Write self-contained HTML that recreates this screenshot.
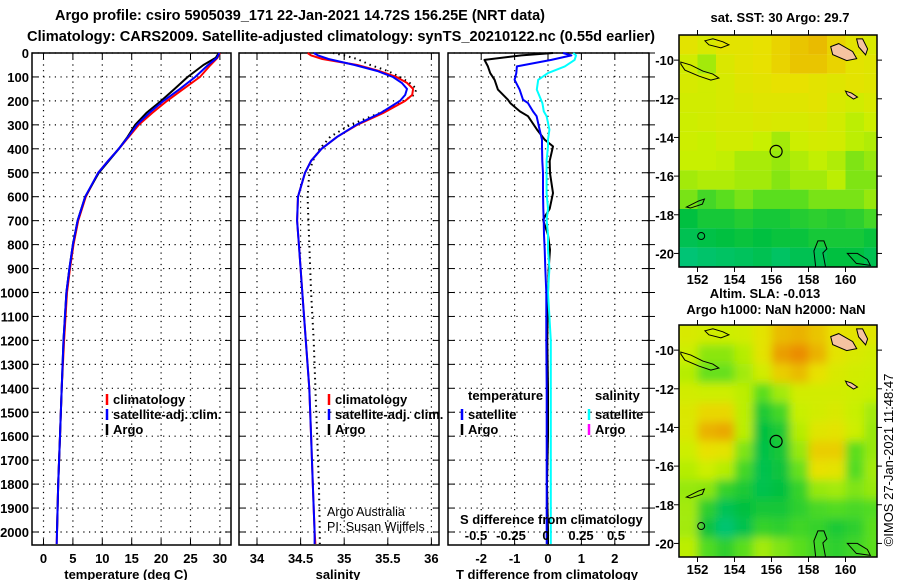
<!DOCTYPE html>
<html><head><meta charset="utf-8"><style>
html,body{margin:0;padding:0;background:#fff;}
svg{display:block;font-family:"Liberation Sans",Arial,sans-serif;}
.b{font-weight:bold;font-size:13px;}
</style></head><body>
<svg id="fig" width="900" height="580" viewBox="0 0 900 580" xmlns="http://www.w3.org/2000/svg">
<text x="55" y="20" class="b" style="font-size:14.5px" textLength="490" lengthAdjust="spacingAndGlyphs">Argo profile: csiro 5905039_171 22-Jan-2021 14.72S 156.25E (NRT data)</text>
<text x="27" y="41" class="b" style="font-size:14.5px" textLength="628" lengthAdjust="spacingAndGlyphs">Climatology: CARS2009. Satellite-adjusted climatology: synTS_20210122.nc (0.55d earlier)</text>
<g id="plots"></g>
<g id="maps"></g>
<text transform="translate(893,460) rotate(-90)" text-anchor="middle" font-size="13">©IMOS 27-Jan-2021 11:48:47</text>
</svg>
<script>
// ---------- profile data ----------
const depths   = [0,20,50,100,150,200,250,300,350,400,450,500,600,700,800,900,1000,1200,1400,1600,1800,2000,2050];
const tempArgo = [29.8,29.3,27.2,24.5,22.3,20.0,17.5,15.6,14.3,12.8,11.1,9.4,7.1,5.8,5.0,4.4,3.9,3.4,3.1,2.8,2.5,2.3,2.3];
const tempClim = [30.0,29.6,28.4,26.6,23.8,21.0,18.5,16.2,14.5,12.8,11.0,9.3,7.2,5.9,5.1,4.5,4.0,3.5,3.1,2.8,2.5,2.3,2.25];
const tempSat  = [29.9,29.5,28.0,25.8,23.2,20.4,18.0,15.9,14.4,12.8,11.0,9.3,7.1,5.8,5.0,4.4,3.9,3.4,3.1,2.8,2.5,2.3,2.25];
const salDepths= [0,10,25,50,75,100,125,150,175,200,250,300,350,400,450,500,600,700,800,1000,1200,1400,1600,1800,2000,2050];
const salArgo  = [34.87,35.0,35.15,35.3,35.5,35.64,35.75,35.83,35.8,35.68,35.41,35.07,34.84,34.72,34.64,34.6,34.58,34.59,34.6,34.62,34.65,34.67,34.69,34.71,34.72,34.72];
const salClim  = [34.58,34.62,34.75,35.15,35.4,35.6,35.72,35.79,35.78,35.7,35.45,35.15,34.92,34.74,34.62,34.55,34.47,34.46,34.48,34.52,34.56,34.6,34.62,34.64,34.66,34.67];
const salSat   = [34.65,34.7,34.82,35.12,35.38,35.56,35.66,35.72,35.7,35.64,35.42,35.14,34.92,34.74,34.62,34.55,34.47,34.46,34.48,34.52,34.56,34.6,34.62,34.64,34.66,34.66];
const dDepths  = [0,10,29,56,84,112,153,195,209,244,264,320,362,390,450,502,585,650,696,760,821,900,1000,1200,1400,1600,1800,2000,2050];
const tDiffArgo= [0.15,-0.8,-1.9,-1.8,-1.73,-1.6,-1.5,-1.2,-1.13,-0.84,-0.6,-0.33,-0.1,0.15,0.05,0.06,0.15,0.05,-0.15,0.0,0.06,0.02,0.0,-0.02,0.0,0.0,-0.03,0.0,0.0];
const tDiffSat = [0.45,0.7,0.1,-0.93,-0.95,-1.0,-0.85,-0.75,-0.6,-0.45,-0.34,-0.25,-0.18,-0.18,-0.17,-0.15,-0.15,-0.14,-0.13,-0.12,-0.1,-0.08,-0.05,-0.05,-0.04,-0.04,-0.04,-0.04,-0.04];
const sDiffSat = [0.18,0.2,0.19,0.12,0.0,-0.07,-0.08,-0.05,-0.04,-0.03,-0.01,0.01,0.0,0.0,-0.01,-0.01,-0.01,0.0,-0.01,0.0,0.0,0.01,0.0,0.02,0.02,0.02,0.02,0.02,0.02];
const depthTicks = [0,100,200,300,400,500,600,700,800,900,1000,1100,1200,1300,1400,1500,1600,1700,1800,1900,2000];
const tempTicks = [0,5,10,15,20,25,30];
const salTicks = [34,34.5,35,35.5,36];
const salTickLabels = ["34","34.5","35","35.5","36"];
const tdTicks = [-2,-1,0,1,2];
const sdTicks = [-0.5,-0.25,0,0.25,0.5];
const sdTickLabels = ["-0.5","-0.25","0","0.25","0.5"];

const NS="http://www.w3.org/2000/svg";
function mk(tag,attrs,parent,txt){const e=document.createElementNS(NS,tag);for(const k in attrs)e.setAttribute(k,attrs[k]);if(txt!==undefined)e.textContent=txt;parent.appendChild(e);return e;}
const TOP=53,BOT=545;
const yD=d=>TOP+d*0.2395;
const xT=v=>43.5+v*5.88;
const xS=v=>257+(v-34)*87.2;
const xTD=v=>548+v*33.4;
const xSD=v=>548+v*140;
const plots=document.getElementById('plots');

function panel(name,x0,x1,ticks,xf,labels,title,titleX){
  const g=mk('g',{},plots);
  
  
  depthTicks.forEach(d=>{
    const l=mk('line',{x1:x0,x2:x1,y1:yD(d),y2:yD(d),stroke:'#000','stroke-width':1.2,'stroke-dasharray':'1.2,4.5'},g);
    
    
    mk('line',{x1:x0,x2:x0+6,y1:yD(d),y2:yD(d),stroke:'#000'},g);
    mk('line',{x1:x1,x2:x1-6,y1:yD(d),y2:yD(d),stroke:'#000'},g);
  });
  ticks.forEach((t,i)=>{
    const x=xf(t);
    const l=mk('line',{x1:x,x2:x,y1:TOP,y2:BOT,stroke:'#000','stroke-width':1.2,'stroke-dasharray':'1.2,4.5'},g);
    
    
    mk('line',{x1:x,x2:x,y1:TOP,y2:TOP+6,stroke:'#000'},g);
    mk('line',{x1:x,x2:x,y1:BOT,y2:BOT-6,stroke:'#000'},g);
    const tx=mk('text',{x:x,y:563,'text-anchor':'middle',class:'b'},g,labels[i]);
    
    
  });
  const r=mk('rect',{x:x0,y:TOP,width:x1-x0,height:BOT-TOP,fill:'none',stroke:'#000','stroke-width':1.5},g);
  
  
  const tt=mk('text',{x:titleX,y:579,'text-anchor':'middle',class:'b'},g,title);
  
  
  return g;
}
function line(g,ds,vals,xf,color,w,name,dash){
  const pts=ds.map((d,i)=>xf(vals[i]).toFixed(1)+','+yD(d).toFixed(1)).join(' ');
  const p=mk('polyline',{points:pts,fill:'none',stroke:color,'stroke-width':w,'stroke-linejoin':'round'},g);
  if(dash)p.setAttribute('stroke-dasharray',dash);
  
  
}
function leg(g,x,y,color,label,name){
  mk('line',{x1:x,x2:x,y1:y-10,y2:y+1,stroke:color,'stroke-width':2.5},g);
  const t=mk('text',{x:x+6,y:y,class:'b'},g,label);
  
  
}
depthTicks.forEach(d=>{
  const t=mk('text',{x:29,y:yD(d)+5,'text-anchor':'end',class:'b'},plots,String(d));
  
  
});
const g1=panel('temperature-panel',32,231,tempTicks,xT,tempTicks.map(String),'temperature (deg C)',126);
line(g1,depths,tempClim,xT,'#f00',2,'temp-climatology-line');
line(g1,depths.slice(0,22),tempArgo.slice(0,22),xT,'#000',2,'temp-argo-line');
line(g1,depths,tempSat,xT,'#00f',2,'temp-satellite-line');
leg(g1,107,404,'#f00','climatology','legend-climatology');
leg(g1,107,419,'#00f','satellite-adj. clim.','legend-satellite');
leg(g1,107,434,'#000','Argo','legend-argo');
const g2=panel('salinity-panel',239,439,salTicks,xS,salTickLabels,'salinity',338);
line(g2,salDepths,salArgo,xS,'#000',2,'sal-argo-line','1.5,4');
line(g2,salDepths,salClim,xS,'#f00',2,'sal-climatology-line');
line(g2,salDepths,salSat,xS,'#00f',2,'sal-satellite-line');
leg(g2,329,404,'#f00','climatology','legend-climatology');
leg(g2,329,419,'#00f','satellite-adj. clim.','legend-satellite');
leg(g2,329,434,'#000','Argo','legend-argo');
let t=mk('text',{x:327,y:516,'font-size':12.5},g2,'Argo Australia');

t=mk('text',{x:327,y:531,'font-size':12.5},g2,'PI: Susan Wijffels');

const g3=panel('difference-panel',448,649,tdTicks,xTD,tdTicks.map(String),'T difference from climatology',547);
line(g3,dDepths,tDiffArgo,xTD,'#000',2,'tdiff-argo-line');
line(g3,dDepths,sDiffSat,xSD,'#0ff',2,'sdiff-satellite-line');
line(g3,dDepths,tDiffSat,xTD,'#00f',2,'tdiff-satellite-line');
t=mk('text',{x:468,y:400,class:'b'},g3,'temperature');
t=mk('text',{x:595,y:400,class:'b'},g3,'salinity');
leg(g3,462,419,'#00f','satellite','legend-t-satellite');
leg(g3,462,434,'#000','Argo','legend-t-argo');
leg(g3,589,419,'#0ff','satellite','legend-s-satellite');
leg(g3,589,434,'#f0f','Argo','legend-s-argo');
t=mk('text',{x:460,y:524,class:'b'},g3,'S difference from climatology');
sdTicks.forEach((v,i)=>{
  const tx=mk('text',{x:xSD(v)-2,y:540,'text-anchor':'middle',class:'b'},g3,sdTickLabels[i]);
  
  
});
depthTicks.forEach(d=>mk('line',{x1:649,x2:655,y1:yD(d),y2:yD(d),stroke:'#000'},plots));

// ---------- maps ----------
const lonTicks=[152,154,156,158,160];
const latTicks=[-10,-12,-14,-16,-18,-20];
const sstGrid=[
[0.8,0.75,0.8,0.8,0.82,0.85,0.88,0.9,0.85,0.8,0.75],
[0.72,0.62,0.76,0.8,0.82,0.85,0.88,0.88,0.85,0.8,0.78],
[0.74,0.72,0.74,0.78,0.8,0.82,0.82,0.8,0.78,0.8,0.78],
[0.72,0.72,0.74,0.76,0.78,0.78,0.78,0.8,0.75,0.72,0.75],
[0.7,0.72,0.74,0.74,0.76,0.75,0.74,0.76,0.72,0.66,0.7],
[0.7,0.68,0.72,0.72,0.68,0.62,0.7,0.73,0.72,0.66,0.64],
[0.68,0.68,0.67,0.63,0.63,0.6,0.64,0.67,0.64,0.56,0.6],
[0.62,0.64,0.64,0.62,0.62,0.57,0.62,0.62,0.66,0.56,0.56],
[0.55,0.45,0.5,0.55,0.5,0.5,0.5,0.55,0.55,0.55,0.6],
[0.3,0.35,0.35,0.38,0.35,0.35,0.38,0.4,0.38,0.4,0.45],
[0.25,0.28,0.3,0.32,0.3,0.32,0.32,0.35,0.35,0.35,0.32],
[0.15,0.18,0.2,0.22,0.25,0.2,0.25,0.25,0.3,0.3,0.25]];
const slaGrid=[
[0.75,0.72,0.7,0.72,0.8,0.9,0.92,0.88,0.82,0.8,0.78],
[0.7,0.58,0.58,0.65,0.8,0.96,1.0,0.92,0.8,0.75,0.72],
[0.65,0.52,0.52,0.62,0.72,0.86,0.9,0.82,0.75,0.72,0.7],
[0.72,0.7,0.7,0.66,0.5,0.62,0.72,0.72,0.72,0.7,0.68],
[0.76,0.84,0.84,0.66,0.36,0.45,0.68,0.72,0.75,0.68,0.62],
[0.76,0.92,0.94,0.66,0.3,0.36,0.65,0.78,0.8,0.7,0.6],
[0.7,0.82,0.8,0.56,0.28,0.34,0.6,0.86,0.86,0.5,0.6],
[0.65,0.7,0.65,0.45,0.26,0.32,0.52,0.82,0.8,0.48,0.62],
[0.6,0.58,0.42,0.36,0.26,0.3,0.42,0.6,0.62,0.56,0.6],
[0.62,0.4,0.24,0.3,0.34,0.34,0.4,0.46,0.48,0.46,0.48],
[0.62,0.32,0.16,0.26,0.42,0.4,0.44,0.42,0.36,0.4,0.5],
[0.66,0.48,0.4,0.5,0.62,0.56,0.5,0.44,0.4,0.44,0.5]];
const floatLon=156.25, floatLat=-14.72;
const stops=[[0,[0,200,170]],[0.3,[0,192,64]],[0.5,[90,222,30]],[0.68,[200,240,0]],[0.82,[232,225,0]],[1,[235,140,0]]];
function col(v){for(let i=1;i<stops.length;i++){if(v<=stops[i][0]){const a=stops[i-1],b=stops[i];const f=(v-a[0])/(b[0]-a[0]);const c=a[1].map((x,j)=>Math.round(x+(b[1][j]-x)*f));return 'rgb('+c.join(',')+')';}}return 'rgb(235,140,0)';}
const maps=document.getElementById('maps');
const defs=mk('defs',{},maps);
const flt=mk('filter',{id:'blur',x:'-5%',y:'-5%',width:'110%',height:'110%'},defs);
mk('feGaussianBlur',{stdDeviation:4.5},flt);
function drawMap(name,top,grid,smooth){
  const L=679,R=877,B=top+232;
  const xL=lon=>L+(lon-151)*18.5;
  const yL=lat=>top+(-8.7-lat)*19.33;
  const g=mk('g',{},maps);
  
  
  const cp=mk('clipPath',{id:'cp'+top},defs);
  mk('rect',{x:L,y:top,width:R-L,height:B-top},cp);
  const cells=mk('g',{'clip-path':'url(#cp'+top+')'},g);
  const inner=mk('g',smooth?{filter:'url(#blur)'}:{},cells);
  grid.forEach((row,r)=>row.forEach((v,c)=>{
    const lon0=151+c, lat0=-8.7-r;
    const pad=smooth?8:0;
    const rc=mk('rect',{x:xL(lon0)-(c==0?pad:0),y:yL(lat0)-(r==0?pad:0),width:18.6+(c==0||c==row.length-1?pad:0),height:19.4+(r==0||r==grid.length-1?pad:0),fill:col(v)},inner);
    
    
  }));
  const isl=[
   {d:`M${xL(159.2)},${yL(-9.3)} l8,-3 l14,8 l4,7 l-10,2 l-14,-6 z`,f:'#f5c3a0'},
   {d:`M${xL(160.6)},${yL(-8.9)} l6,0 l5,10 l-2,6 l-7,-8 z`,f:'#f5c3a0'},
   {d:`M${xL(151.1)},${yL(-10.1)} l10,3 l12,6 l10,3 l6,4 l-8,2 l-12,-4 l-14,-6 l-4,-6 z`,f:'none'},
   {d:`M${xL(152.4)},${yL(-9.0)} l8,-2 l10,3 l6,3 l-8,3 l-12,-3 z`,f:'none'},
   {d:`M${xL(151.4)},${yL(-17.6)} l12,-6 l6,-2 l-2,5 l-12,4 z`,f:'none'},
   {d:`M${xL(158.4)},${yL(-20.8)} l-2,-18 l4,-10 l6,0 l3,8 l-4,4 l3,16 z`,f:'none'},
   {d:`M${xL(160.1)},${yL(-20.0)} l10,0 l10,6 l3,6 l-14,-2 z`,f:'none'},
   {d:`M${xL(160.0)},${yL(-11.6)} l6,2 l6,4 l-4,2 l-6,-4 z`,f:'#f5c3a0'}];
  isl.forEach(s=>{const p=mk('path',{d:s.d,fill:s.f,stroke:'#000','stroke-width':1},cells);});
  const cc=mk('circle',{cx:xL(152.2),cy:yL(-19.1),r:3.5,fill:'none',stroke:'#000'},cells);
  
  const fl=mk('circle',{cx:xL(floatLon),cy:yL(floatLat),r:6,fill:'none',stroke:'#000','stroke-width':1.2},g);
  
  
  const fr=mk('rect',{x:L,y:top,width:R-L,height:B-top,fill:'none',stroke:'#000','stroke-width':1.5},g);
  
  
  lonTicks.forEach(lon=>{
    const x=xL(lon);
    mk('line',{x1:x,x2:x,y1:top,y2:top-5,stroke:'#000'},g);
    mk('line',{x1:x,x2:x,y1:B,y2:B+5,stroke:'#000'},g);
    const tx=mk('text',{x:x,y:B+17,'text-anchor':'middle',class:'b'},g,String(lon));
    
    
  });
  latTicks.forEach(lat=>{
    const y=yL(lat);
    mk('line',{x1:L,x2:L-5,y1:y,y2:y,stroke:'#000'},g);
    mk('line',{x1:R,x2:R+5,y1:y,y2:y,stroke:'#000'},g);
    const tx=mk('text',{x:674,y:y+5,'text-anchor':'end',class:'b'},g,String(lat));
    
    
  });
}
drawMap('sst-map',35,sstGrid,false);
drawMap('sla-map',325,slaGrid,true);
t=mk('text',{x:780,y:22,'text-anchor':'middle',class:'b'},maps,'sat. SST: 30 Argo: 29.7');
t=mk('text',{x:765,y:298,'text-anchor':'middle',class:'b'},maps,'Altim. SLA: -0.013');
t=mk('text',{x:776,y:314,'text-anchor':'middle',class:'b'},maps,'Argo h1000: NaN h2000: NaN');
</script>
</body></html>
